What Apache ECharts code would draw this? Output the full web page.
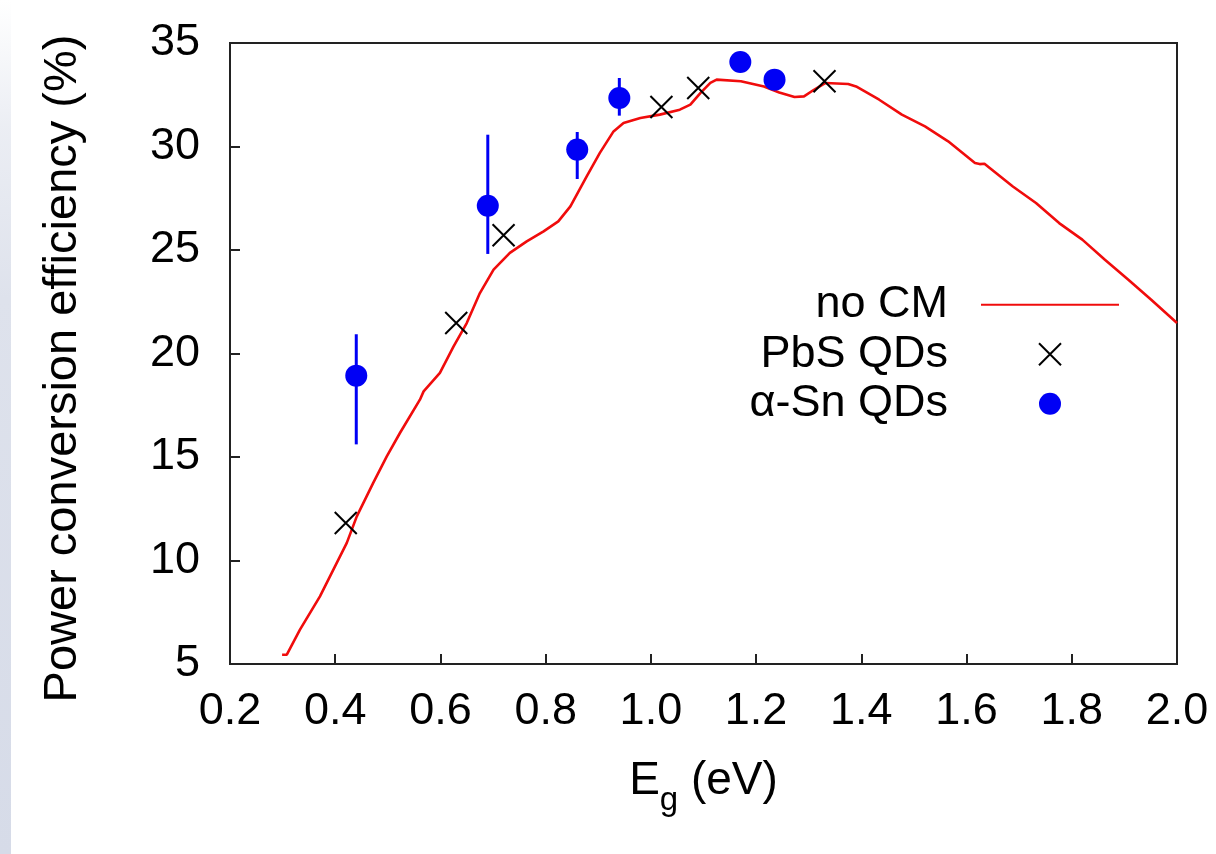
<!DOCTYPE html>
<html>
<head>
<meta charset="utf-8">
<script src="https://cdn.jsdelivr.net/npm/echarts@6/dist/echarts.min.js"></script>
<style>
  html, body { margin: 0; padding: 0; background: #fff; }
  #chart { width: 1216px; height: 854px; }
</style>
</head>
<body>
<div id="chart"></div>
<script>
// Detailed-balance efficiency without carrier multiplication (eV, %)
const noCmX = [0.299, 0.308, 0.333, 0.371, 0.422, 0.441, 0.472, 0.498, 0.523, 0.561,
  0.568, 0.599, 0.625, 0.650, 0.675, 0.701, 0.732, 0.764, 0.796, 0.824,
  0.847, 0.878, 0.903, 0.929, 0.948, 0.980, 1.017, 1.055, 1.075, 1.094,
  1.113, 1.125, 1.171, 1.215, 1.244, 1.273, 1.291, 1.310, 1.332, 1.375,
  1.390, 1.434, 1.477, 1.521, 1.565, 1.616, 1.625, 1.634, 1.688, 1.732,
  1.776, 1.820, 1.863, 1.907, 1.951, 2.000];
const noCmY = [5.45, 5.45, 6.66, 8.27, 10.85, 12.13, 13.74, 15.03, 16.16, 17.77,
  18.17, 19.06, 20.34, 21.47, 22.92, 24.05, 24.86, 25.42, 25.90, 26.38,
  27.11, 28.56, 29.69, 30.73, 31.14, 31.38, 31.54, 31.78, 32.02, 32.58,
  33.07, 33.23, 33.15, 32.90, 32.61, 32.39, 32.42, 32.74, 33.07, 33.02,
  32.90, 32.26, 31.54, 30.97, 30.25, 29.20, 29.15, 29.17, 28.07, 27.27,
  26.30, 25.50, 24.53, 23.57, 22.60, 21.47];

// PbS quantum dots
const pbsX = [0.42, 0.63, 0.72, 1.02, 1.09, 1.33];
const pbsY = [11.81, 21.47, 25.71, 31.91, 32.83, 33.15];

// alpha-Sn quantum dots with error ranges
const snX = [0.44, 0.69, 0.86, 0.94, 1.17, 1.235];
const snY = [18.93, 27.14, 29.85, 32.34, 34.08, 33.23];
const snLo = [15.61, 24.81, 28.43, 31.49, null, null];
const snHi = [20.93, 30.57, 30.70, 33.31, null, null];

const xTicks = { min: 0.2, max: 2.0, step: 0.2 };
const yTicks = { min: 5, max: 35, step: 5 };

const FONT = '"Liberation Sans", Arial, Helvetica, sans-serif';
const crossPath = 'path://M0,0L10,10M10,0L0,10';
const RED = '#f00c0c';
const BLUE = '#0000f5';

const chart = echarts.init(document.getElementById('chart'), null, { renderer: 'canvas' });

const errData = [];
snX.forEach((x, i) => { if (snLo[i] != null) errData.push([x, snLo[i], snHi[i]]); });

chart.setOption({
  animation: false,
  backgroundColor: '#ffffff',
  graphic: [{
    type: 'rect',
    left: 0, top: 0, z: -10,
    shape: { x: 0, y: 0, width: 11, height: 854 },
    style: {
      fill: new echarts.graphic.LinearGradient(0, 0, 0, 1, [
        { offset: 0, color: 'rgba(222,226,236,0)' },
        { offset: 0.15, color: 'rgba(222,226,236,0.6)' },
        { offset: 0.35, color: 'rgba(222,226,236,1)' },
        { offset: 1, color: 'rgba(214,219,232,1)' }
      ])
    }
  }],
  grid: {
    left: 230, right: 39, top: 43, bottom: 190,
    show: true, borderColor: '#222', borderWidth: 2, backgroundColor: 'transparent'
  },
  legend: {
    orient: 'vertical',
    align: 'right',
    right: 96,
    top: 280,
    itemWidth: 138,
    itemHeight: 22,
    itemGap: 0,
    padding: 0,
    selectedMode: false,
    textStyle: { fontFamily: FONT, fontSize: 45, color: '#000', lineHeight: 49.5, padding: [0, 28, 0, 0] },
    data: [
      { name: 'no CM', itemStyle: { opacity: 0 } },
      'PbS QDs',
      'α-Sn QDs'
    ]
  },
  xAxis: {
    type: 'value',
    min: xTicks.min, max: xTicks.max, interval: xTicks.step,
    name: '{e|E}{g|g}{r| (eV)}',
    nameLocation: 'middle',
    nameGap: 94,
    nameTextStyle: {
      fontFamily: FONT, color: '#000',
      rich: {
        e: { fontFamily: FONT, fontSize: 46, lineHeight: 50, verticalAlign: 'top', color: '#000' },
        g: { fontFamily: FONT, fontSize: 33, lineHeight: 38, padding: [26, 0, 0, 0], verticalAlign: 'top', color: '#000' },
        r: { fontFamily: FONT, fontSize: 46, lineHeight: 50, verticalAlign: 'top', color: '#000' }
      }
    },
    axisLine: { show: true, lineStyle: { color: '#222', width: 2 } },
    axisTick: { show: true, inside: true, length: 10, lineStyle: { color: '#222', width: 2 } },
    axisLabel: {
      fontFamily: FONT, fontSize: 45, color: '#000', margin: 25,
      formatter: v => v.toFixed(1)
    },
    splitLine: { show: false }
  },
  yAxis: {
    type: 'value',
    min: yTicks.min, max: yTicks.max, interval: yTicks.step,
    name: 'Power conversion efficiency (%)',
    nameLocation: 'middle',
    nameGap: 143,
    nameTextStyle: { fontFamily: FONT, fontSize: 47, color: '#000', padding: [0, 30, 0, 0] },
    axisLine: { show: true, lineStyle: { color: '#222', width: 2 } },
    axisTick: { show: true, inside: true, length: 10, lineStyle: { color: '#222', width: 2 } },
    axisLabel: { fontFamily: FONT, fontSize: 45, color: '#000', margin: 30 },
    splitLine: { show: false }
  },
  series: [
    {
      name: 'no CM',
      type: 'line',
      data: noCmX.map((x, i) => [x, noCmY[i]]),
      showSymbol: false,
      symbol: 'none',
      lineStyle: { color: RED, width: 2.6 },
      itemStyle: { color: RED },
      z: 2
    },
    {
      name: 'PbS QDs',
      type: 'scatter',
      data: pbsX.map((x, i) => [x, pbsY[i]]),
      symbol: crossPath,
      symbolSize: 22,
      symbolKeepAspect: true,
      itemStyle: { color: 'rgba(0,0,0,0)', borderColor: '#000', borderWidth: 2, opacity: 1 },
      z: 3
    },
    {
      name: 'α-Sn error',
      type: 'custom',
      data: errData,
      renderItem: (params, api) => {
        const top = api.coord([api.value(0), api.value(2)]);
        const bot = api.coord([api.value(0), api.value(1)]);
        return {
          type: 'line',
          shape: { x1: top[0], y1: top[1], x2: bot[0], y2: bot[1] },
          style: { stroke: BLUE, lineWidth: 3 }
        };
      },
      z: 4
    },
    {
      name: 'α-Sn QDs',
      type: 'scatter',
      data: snX.map((x, i) => [x, snY[i]]),
      symbol: 'circle',
      symbolSize: 22,
      itemStyle: { color: BLUE, opacity: 1 },
      z: 5
    }
  ]
});
</script>
</body>
</html>
